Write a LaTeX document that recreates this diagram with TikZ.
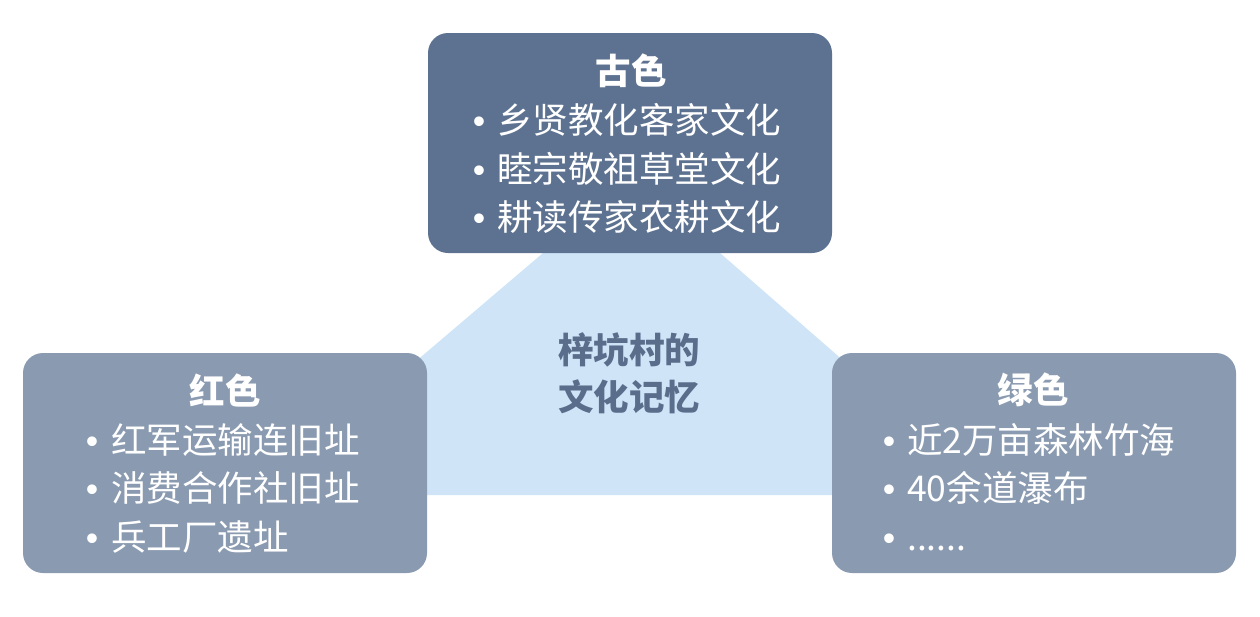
\documentclass[tikz,border=0pt]{standalone}
\usepackage{fontspec}
\setmainfont{Noto Sans CJK SC}
\newfontfamily\bulfont{Liberation Sans}
\definecolor{topbox}{HTML}{5D7290}
\definecolor{sidebox}{HTML}{8A9AB0}
\definecolor{lightblue}{HTML}{CFE5F7}
\definecolor{centertext}{HTML}{5A6E8C}
\tikzset{
  panel/.style={rounded corners=20pt, draw=none},
  titletxt/.style={text=white, font=\fontsize{35.5}{40}\selectfont\bfseries, inner sep=0pt, anchor=center},
  itemtxt/.style={text=white, font=\fontsize{35.5}{40}\selectfont, inner sep=0pt, anchor=base west},
  bultxt/.style={text=white, font=\fontsize{35.5}{40}\selectfont\bulfont, inner sep=0pt, anchor=base},
  midtxt/.style={text=centertext, font=\fontsize{35.5}{40}\selectfont\bfseries, inner sep=0pt, anchor=center}
}
\begin{document}
\begin{tikzpicture}[x=1pt,y=-1pt]
\useasboundingbox (0,0) rectangle (1260,616);
% light blue background shape
\fill[lightblue] (543,253) -- (415,362) -- (415,495) -- (845,495) -- (845,362) -- (720,253) -- cycle;
% panels
\fill[panel, topbox] (428,33) rectangle (832,253);
\coordinate (topc) at (630,143);
\fill[panel, sidebox] (23,353) rectangle (427,573);
\fill[panel, sidebox] (832,353) rectangle (1236,573);
% top panel text
\node[titletxt] (t0) at (631,71) {古色};
\node[bultxt] (t1b) at (479,133.7) {•};
\node[itemtxt] (t1) at (497,133.7) {乡贤教化客家文化};
\node[bultxt] (t2b) at (479,182.2) {•};
\node[itemtxt] (t2) at (497,182.2) {睦宗敬祖草堂文化};
\node[bultxt] (t3b) at (479,230.7) {•};
\node[itemtxt] (t3) at (497,230.7) {耕读传家农耕文化};
% left panel text
\node[titletxt] (l0) at (225,390) {红色};
\node[bultxt] (l1b) at (92,453.7) {•};
\node[itemtxt] (l1) at (111,453.7) {红军运输连旧址};
\node[bultxt] (l2b) at (92,501.7) {•};
\node[itemtxt] (l2) at (111,501.7) {消费合作社旧址};
\node[bultxt] (l3b) at (92,550.7) {•};
\node[itemtxt] (l3) at (111,550.7) {兵工厂遗址};
% right panel text
\node[titletxt] (r0) at (1033,390) {绿色};
\node[bultxt] (r1b) at (889,453.7) {•};
\node[itemtxt] (r1) at (907,453.7) {近2万亩森林竹海};
\node[bultxt] (r2b) at (889,501.7) {•};
\node[itemtxt] (r2) at (907,501.7) {40余道瀑布};
\node[bultxt] (r3b) at (889,550.7) {•};
\node[itemtxt] (r3) at (907,550.7) {......};
% center text
\node[midtxt] (m1) at (629,350) {梓坑村的};
\node[midtxt] (m2) at (629,397) {文化记忆};
\end{tikzpicture}
\end{document}
